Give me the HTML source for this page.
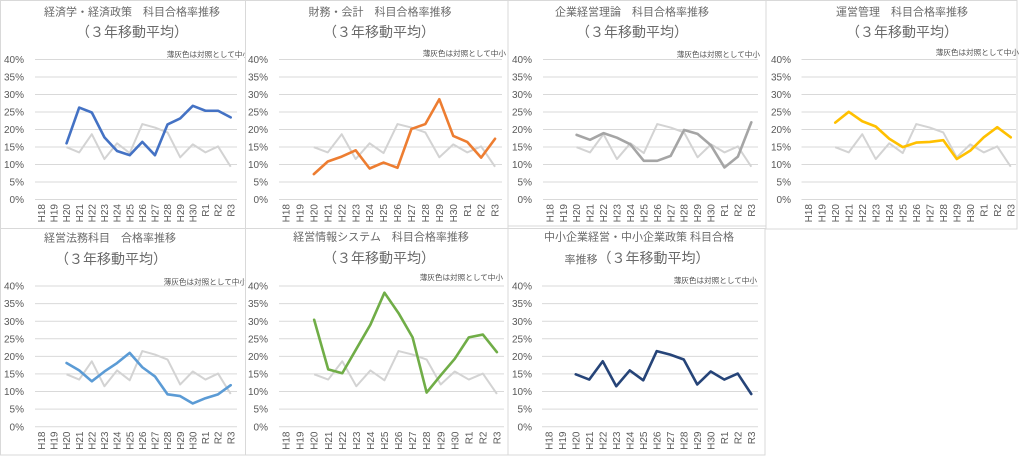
<!DOCTYPE html>
<html><head><meta charset="utf-8"><style>
html,body{margin:0;padding:0;background:#fff;}
svg{display:block;}
.t1{font-family:"Liberation Sans","Noto Sans CJK JP",sans-serif;font-size:11px;fill:#6a6a6a;}
.t2{font-family:"Liberation Sans","Noto Sans CJK JP",sans-serif;font-size:14px;fill:#6a6a6a;}
.nt{font-family:"Liberation Sans","Noto Sans CJK JP",sans-serif;font-size:7.6px;fill:#505050;}
.yl{font-family:"Liberation Sans",sans-serif;font-size:10px;fill:#595959;text-anchor:end;}
.xl text{font-family:"Liberation Sans",sans-serif;font-size:10px;fill:#595959;text-anchor:end;}
.g line{stroke:#d9d9d9;stroke-width:1;}
.ref{fill:none;stroke:#d3d3d3;stroke-width:2;stroke-linejoin:round;vector-effect:non-scaling-stroke;}
.s{fill:none;stroke-width:2.6;stroke-linejoin:round;stroke-linecap:round;vector-effect:non-scaling-stroke;}
</style></head><body>
<svg width="1024" height="457" viewBox="0 0 1024 457" xmlns="http://www.w3.org/2000/svg">
<defs>
<clipPath id="c1"><rect x="0" y="0" width="245" height="228"/></clipPath>
<clipPath id="c2"><rect x="246" y="0" width="262" height="228"/></clipPath>
<clipPath id="c4"><rect x="766" y="0" width="258" height="229"/></clipPath>
<clipPath id="c5"><rect x="0" y="228" width="245" height="228"/></clipPath>
</defs>
<rect width="1024" height="457" fill="#fff"/>

<!-- panel borders -->
<g stroke="#d9d9d9" stroke-width="1" fill="none">
<rect x="0.5" y="0.5" width="245" height="228"/>
<rect x="245.5" y="0.5" width="262.5" height="228"/>
<rect x="508" y="0.5" width="258" height="225.5"/>
<rect x="766" y="0.5" width="251" height="228.5"/>
<rect x="0.5" y="228.5" width="245" height="226.5"/>
<rect x="245.5" y="228.5" width="262.5" height="226.5"/>
<rect x="508" y="228.5" width="257" height="226.5"/>
</g>

<!-- ================= PANEL 1 ================= -->
<text class="t1" x="132" y="15.7" text-anchor="middle">経済学・経済政策　科目合格率推移</text>
<text class="t2" x="132" y="36.8" text-anchor="middle">（３年移動平均）</text>
<g clip-path="url(#c1)"><text class="nt" x="250" y="57.1" text-anchor="end">薄灰色は対照として中小</text></g>
<g class="g">
<line x1="35" x2="237" y1="59.5" y2="59.5"/><line x1="35" x2="237" y1="77" y2="77"/><line x1="35" x2="237" y1="94.5" y2="94.5"/><line x1="35" x2="237" y1="112" y2="112"/><line x1="35" x2="237" y1="129.5" y2="129.5"/><line x1="35" x2="237" y1="147" y2="147"/><line x1="35" x2="237" y1="164.5" y2="164.5"/><line x1="35" x2="237" y1="182" y2="182"/><line x1="35" x2="237" y1="199.5" y2="199.5"/>
</g>
<g class="yl">
<text x="24" y="62.9">40%</text><text x="24" y="80.4">35%</text><text x="24" y="97.9">30%</text><text x="24" y="115.4">25%</text><text x="24" y="132.9">20%</text><text x="24" y="150.4">15%</text><text x="24" y="167.9">10%</text><text x="24" y="185.4">5%</text><text x="24" y="202.9">0%</text>
</g>
<g class="xl" transform="translate(44.91,204) rotate(-90)">
<text x="0" y="0">H18</text><text x="0" y="12.63">H19</text><text x="0" y="25.25">H20</text><text x="0" y="37.88">H21</text><text x="0" y="50.5">H22</text><text x="0" y="63.13">H23</text><text x="0" y="75.75">H24</text><text x="0" y="88.38">H25</text><text x="0" y="101">H26</text><text x="0" y="113.63">H27</text><text x="0" y="126.25">H28</text><text x="0" y="138.88">H29</text><text x="0" y="151.5">H30</text><text x="0" y="164.13">R1</text><text x="0" y="176.75">R2</text><text x="0" y="189.38">R3</text>
</g>
<g transform="translate(41.31,199.3) scale(12.625,-3.5)">
<polyline class="ref" points="2,14.9 3,13.4 4,18.6 5,11.5 6,16.0 7,13.2 8,21.5 9,20.5 10,19.1 11,12.0 12,15.7 13,13.4 14,15.1 15,9.3"/>
<polyline class="s" stroke="#4472C4" points="2,16.0 3,26.2 4,24.8 5,17.7 6,13.8 7,12.6 8,16.4 9,12.6 10,21.4 11,23.1 12,26.7 13,25.3 14,25.3 15,23.4"/>
</g>

<!-- ================= PANEL 2 ================= -->
<text class="t1" x="380" y="15.7" text-anchor="middle">財務・会計　科目合格率推移</text>
<text class="t2" x="379" y="36.8" text-anchor="middle">（３年移動平均）</text>
<g clip-path="url(#c2)"><text class="nt" x="506" y="56.2" text-anchor="end">薄灰色は対照として中小</text></g>
<g class="g">
<line x1="279" x2="502" y1="59.5" y2="59.5"/><line x1="279" x2="502" y1="77" y2="77"/><line x1="279" x2="502" y1="94.5" y2="94.5"/><line x1="279" x2="502" y1="112" y2="112"/><line x1="279" x2="502" y1="129.5" y2="129.5"/><line x1="279" x2="502" y1="147" y2="147"/><line x1="279" x2="502" y1="164.5" y2="164.5"/><line x1="279" x2="502" y1="182" y2="182"/><line x1="279" x2="502" y1="199.5" y2="199.5"/>
</g>
<g class="yl">
<text x="268" y="62.9">40%</text><text x="268" y="80.4">35%</text><text x="268" y="97.9">30%</text><text x="268" y="115.4">25%</text><text x="268" y="132.9">20%</text><text x="268" y="150.4">15%</text><text x="268" y="167.9">10%</text><text x="268" y="185.4">5%</text><text x="268" y="202.9">0%</text>
</g>
<g class="xl" transform="translate(289.57,204) rotate(-90)">
<text x="0" y="0">H18</text><text x="0" y="13.94">H19</text><text x="0" y="27.88">H20</text><text x="0" y="41.82">H21</text><text x="0" y="55.76">H22</text><text x="0" y="69.7">H23</text><text x="0" y="83.64">H24</text><text x="0" y="97.58">H25</text><text x="0" y="111.52">H26</text><text x="0" y="125.46">H27</text><text x="0" y="139.4">H28</text><text x="0" y="153.34">H29</text><text x="0" y="167.28">H30</text><text x="0" y="181.22">R1</text><text x="0" y="195.16">R2</text><text x="0" y="209.1">R3</text>
</g>
<g transform="translate(285.97,199.3) scale(13.94,-3.5)">
<polyline class="ref" points="2,14.9 3,13.4 4,18.6 5,11.5 6,16.0 7,13.2 8,21.5 9,20.5 10,19.1 11,12.0 12,15.7 13,13.4 14,15.1 15,9.3"/>
<polyline class="s" stroke="#ED7D31" points="2,7.2 3,10.8 4,12.2 5,14.0 6,8.8 7,10.5 8,9.0 9,20.1 10,21.5 11,28.6 12,18.1 13,16.4 14,11.9 15,17.3"/>
</g>

<!-- ================= PANEL 3 ================= -->
<text class="t1" x="632" y="15.7" text-anchor="middle">企業経営理論　科目合格率推移</text>
<text class="t2" x="632" y="36.8" text-anchor="middle">（３年移動平均）</text>
<text class="nt" x="760" y="57.2" text-anchor="end">薄灰色は対照として中小</text>
<g class="g">
<line x1="543" x2="758" y1="59.5" y2="59.5"/><line x1="543" x2="758" y1="77" y2="77"/><line x1="543" x2="758" y1="94.5" y2="94.5"/><line x1="543" x2="758" y1="112" y2="112"/><line x1="543" x2="758" y1="129.5" y2="129.5"/><line x1="543" x2="758" y1="147" y2="147"/><line x1="543" x2="758" y1="164.5" y2="164.5"/><line x1="543" x2="758" y1="182" y2="182"/><line x1="543" x2="758" y1="199.5" y2="199.5"/>
</g>
<g class="yl">
<text x="532" y="62.9">40%</text><text x="532" y="80.4">35%</text><text x="532" y="97.9">30%</text><text x="532" y="115.4">25%</text><text x="532" y="132.9">20%</text><text x="532" y="150.4">15%</text><text x="532" y="167.9">10%</text><text x="532" y="185.4">5%</text><text x="532" y="202.9">0%</text>
</g>
<g class="xl" transform="translate(553.32,204) rotate(-90)">
<text x="0" y="0">H18</text><text x="0" y="13.44">H19</text><text x="0" y="26.88">H20</text><text x="0" y="40.32">H21</text><text x="0" y="53.76">H22</text><text x="0" y="67.2">H23</text><text x="0" y="80.64">H24</text><text x="0" y="94.08">H25</text><text x="0" y="107.52">H26</text><text x="0" y="120.96">H27</text><text x="0" y="134.4">H28</text><text x="0" y="147.84">H29</text><text x="0" y="161.28">H30</text><text x="0" y="174.72">R1</text><text x="0" y="188.16">R2</text><text x="0" y="201.6">R3</text>
</g>
<g transform="translate(549.72,199.3) scale(13.44,-3.5)">
<polyline class="ref" points="2,14.9 3,13.4 4,18.6 5,11.5 6,16.0 7,13.2 8,21.5 9,20.5 10,19.1 11,12.0 12,15.7 13,13.4 14,15.1 15,9.3"/>
<polyline class="s" stroke="#A5A5A5" points="2,18.4 3,17.0 4,18.9 5,17.6 6,15.7 7,11.0 8,11.0 9,12.4 10,19.8 11,18.7 12,15.4 13,9.1 14,12.2 15,22.0"/>
</g>

<!-- ================= PANEL 4 ================= -->
<text class="t1" x="902" y="15.7" text-anchor="middle">運営管理　科目合格率推移</text>
<text class="t2" x="902" y="36.8" text-anchor="middle">（３年移動平均）</text>
<g clip-path="url(#c4)"><text class="nt" x="1019" y="55.2" text-anchor="end">薄灰色は対照として中小</text></g>
<g class="g">
<line x1="801.5" x2="1016" y1="59.5" y2="59.5"/><line x1="801.5" x2="1016" y1="77" y2="77"/><line x1="801.5" x2="1016" y1="94.5" y2="94.5"/><line x1="801.5" x2="1016" y1="112" y2="112"/><line x1="801.5" x2="1016" y1="129.5" y2="129.5"/><line x1="801.5" x2="1016" y1="147" y2="147"/><line x1="801.5" x2="1016" y1="164.5" y2="164.5"/><line x1="801.5" x2="1016" y1="182" y2="182"/><line x1="801.5" x2="1016" y1="199.5" y2="199.5"/>
</g>
<g class="yl">
<text x="791" y="62.9">40%</text><text x="791" y="80.4">35%</text><text x="791" y="97.9">30%</text><text x="791" y="115.4">25%</text><text x="791" y="132.9">20%</text><text x="791" y="150.4">15%</text><text x="791" y="167.9">10%</text><text x="791" y="185.4">5%</text><text x="791" y="202.9">0%</text>
</g>
<g class="xl" transform="translate(811.85,204) rotate(-90)">
<text x="0" y="0">H18</text><text x="0" y="13.5">H19</text><text x="0" y="27">H20</text><text x="0" y="40.5">H21</text><text x="0" y="54">H22</text><text x="0" y="67.5">H23</text><text x="0" y="81">H24</text><text x="0" y="94.5">H25</text><text x="0" y="108">H26</text><text x="0" y="121.5">H27</text><text x="0" y="135">H28</text><text x="0" y="148.5">H29</text><text x="0" y="162">H30</text><text x="0" y="175.5">R1</text><text x="0" y="189">R2</text><text x="0" y="202.5">R3</text>
</g>
<g transform="translate(808.25,199.3) scale(13.5,-3.5)">
<polyline class="ref" points="2,14.9 3,13.4 4,18.6 5,11.5 6,16.0 7,13.2 8,21.5 9,20.5 10,19.1 11,12.0 12,15.7 13,13.4 14,15.1 15,9.3"/>
<polyline class="s" stroke="#FFC000" points="2,21.9 3,25.0 4,22.3 5,20.8 6,17.3 7,14.9 8,16.2 9,16.4 10,16.9 11,11.5 12,13.9 13,17.7 14,20.6 15,17.7"/>
</g>

<!-- ================= PANEL 5 ================= -->
<text class="t1" x="110" y="241.7" text-anchor="middle">経営法務科目　合格率推移</text>
<text class="t2" x="111" y="263.8" text-anchor="middle">（３年移動平均）</text>
<g clip-path="url(#c5)"><text class="nt" x="247" y="284.6" text-anchor="end">薄灰色は対照として中小</text></g>
<g class="g">
<line x1="35" x2="237" y1="286" y2="286"/><line x1="35" x2="237" y1="303.6" y2="303.6"/><line x1="35" x2="237" y1="321.2" y2="321.2"/><line x1="35" x2="237" y1="338.8" y2="338.8"/><line x1="35" x2="237" y1="356.4" y2="356.4"/><line x1="35" x2="237" y1="373.9" y2="373.9"/><line x1="35" x2="237" y1="391.5" y2="391.5"/><line x1="35" x2="237" y1="409.1" y2="409.1"/><line x1="35" x2="237" y1="426.7" y2="426.7"/>
</g>
<g class="yl">
<text x="24" y="289.6">40%</text><text x="24" y="307.2">35%</text><text x="24" y="324.8">30%</text><text x="24" y="342.4">25%</text><text x="24" y="360">20%</text><text x="24" y="377.5">15%</text><text x="24" y="395.1">10%</text><text x="24" y="412.7">5%</text><text x="24" y="430.3">0%</text>
</g>
<g class="xl" transform="translate(44.91,431.5) rotate(-90)">
<text x="0" y="0">H18</text><text x="0" y="12.63">H19</text><text x="0" y="25.25">H20</text><text x="0" y="37.88">H21</text><text x="0" y="50.5">H22</text><text x="0" y="63.13">H23</text><text x="0" y="75.75">H24</text><text x="0" y="88.38">H25</text><text x="0" y="101">H26</text><text x="0" y="113.63">H27</text><text x="0" y="126.25">H28</text><text x="0" y="138.88">H29</text><text x="0" y="151.5">H30</text><text x="0" y="164.13">R1</text><text x="0" y="176.75">R2</text><text x="0" y="189.38">R3</text>
</g>
<g transform="translate(41.31,426.7) scale(12.625,-3.5175)">
<polyline class="ref" points="2,14.9 3,13.4 4,18.6 5,11.5 6,16.0 7,13.2 8,21.5 9,20.5 10,19.1 11,12.0 12,15.7 13,13.4 14,15.1 15,9.3"/>
<polyline class="s" stroke="#5B9BD5" points="2,18.1 3,16.0 4,12.9 5,15.7 6,18.1 7,21.0 8,16.9 9,14.3 10,9.2 11,8.7 12,6.6 13,8.1 14,9.2 15,11.8"/>
</g>

<!-- ================= PANEL 6 ================= -->
<text class="t1" x="381" y="240.7" text-anchor="middle">経営情報システム　科目合格率推移</text>
<text class="t2" x="379" y="262.8" text-anchor="middle">（３年移動平均）</text>
<text class="nt" x="503" y="280.2" text-anchor="end">薄灰色は対照として中小</text>
<g class="g">
<line x1="279" x2="504" y1="286" y2="286"/><line x1="279" x2="504" y1="303.6" y2="303.6"/><line x1="279" x2="504" y1="321.2" y2="321.2"/><line x1="279" x2="504" y1="338.8" y2="338.8"/><line x1="279" x2="504" y1="356.4" y2="356.4"/><line x1="279" x2="504" y1="373.9" y2="373.9"/><line x1="279" x2="504" y1="391.5" y2="391.5"/><line x1="279" x2="504" y1="409.1" y2="409.1"/><line x1="279" x2="504" y1="426.7" y2="426.7"/>
</g>
<g class="yl">
<text x="268" y="289.6">40%</text><text x="268" y="307.2">35%</text><text x="268" y="324.8">30%</text><text x="268" y="342.4">25%</text><text x="268" y="360">20%</text><text x="268" y="377.5">15%</text><text x="268" y="395.1">10%</text><text x="268" y="412.7">5%</text><text x="268" y="430.3">0%</text>
</g>
<g class="xl" transform="translate(289.63,431.5) rotate(-90)">
<text x="0" y="0">H18</text><text x="0" y="14.06">H19</text><text x="0" y="28.12">H20</text><text x="0" y="42.18">H21</text><text x="0" y="56.24">H22</text><text x="0" y="70.3">H23</text><text x="0" y="84.36">H24</text><text x="0" y="98.42">H25</text><text x="0" y="112.48">H26</text><text x="0" y="126.54">H27</text><text x="0" y="140.6">H28</text><text x="0" y="154.66">H29</text><text x="0" y="168.72">H30</text><text x="0" y="182.78">R1</text><text x="0" y="196.84">R2</text><text x="0" y="210.9">R3</text>
</g>
<g transform="translate(286.03,426.7) scale(14.06,-3.5175)">
<polyline class="ref" points="2,14.9 3,13.4 4,18.6 5,11.5 6,16.0 7,13.2 8,21.5 9,20.5 10,19.1 11,12.0 12,15.7 13,13.4 14,15.1 15,9.3"/>
<polyline class="s" stroke="#70AD47" points="2,30.4 3,16.3 4,15.2 5,22.1 6,29.0 7,38.1 8,32.3 9,25.4 10,9.7 11,14.6 12,19.3 13,25.4 14,26.2 15,21.2"/>
</g>

<!-- ================= PANEL 7 ================= -->
<text class="t1" x="639" y="240.7" text-anchor="middle">中小企業経営・中小企業政策 科目合格</text>
<text class="t2" x="637" y="262.8" text-anchor="middle"><tspan font-size="11">率推移</tspan>（３年移動平均）</text>
<text class="nt" x="757" y="282.9" text-anchor="end">薄灰色は対照として中小</text>
<g class="g">
<line x1="542" x2="758" y1="286" y2="286"/><line x1="542" x2="758" y1="303.6" y2="303.6"/><line x1="542" x2="758" y1="321.2" y2="321.2"/><line x1="542" x2="758" y1="338.8" y2="338.8"/><line x1="542" x2="758" y1="356.4" y2="356.4"/><line x1="542" x2="758" y1="373.9" y2="373.9"/><line x1="542" x2="758" y1="391.5" y2="391.5"/><line x1="542" x2="758" y1="409.1" y2="409.1"/><line x1="542" x2="758" y1="426.7" y2="426.7"/>
</g>
<g class="yl">
<text x="532" y="289.6">40%</text><text x="532" y="307.2">35%</text><text x="532" y="324.8">30%</text><text x="532" y="342.4">25%</text><text x="532" y="360">20%</text><text x="532" y="377.5">15%</text><text x="532" y="395.1">10%</text><text x="532" y="412.7">5%</text><text x="532" y="430.3">0%</text>
</g>
<g class="xl" transform="translate(552.35,431.5) rotate(-90)">
<text x="0" y="0">H18</text><text x="0" y="13.5">H19</text><text x="0" y="27">H20</text><text x="0" y="40.5">H21</text><text x="0" y="54">H22</text><text x="0" y="67.5">H23</text><text x="0" y="81">H24</text><text x="0" y="94.5">H25</text><text x="0" y="108">H26</text><text x="0" y="121.5">H27</text><text x="0" y="135">H28</text><text x="0" y="148.5">H29</text><text x="0" y="162">H30</text><text x="0" y="175.5">R1</text><text x="0" y="189">R2</text><text x="0" y="202.5">R3</text>
</g>
<g transform="translate(548.75,426.7) scale(13.5,-3.5175)">
<polyline class="s" stroke="#264478" points="2,14.9 3,13.4 4,18.6 5,11.5 6,16.0 7,13.2 8,21.5 9,20.5 10,19.1 11,12.0 12,15.7 13,13.4 14,15.1 15,9.3"/>
</g>
</svg>
</body></html>
